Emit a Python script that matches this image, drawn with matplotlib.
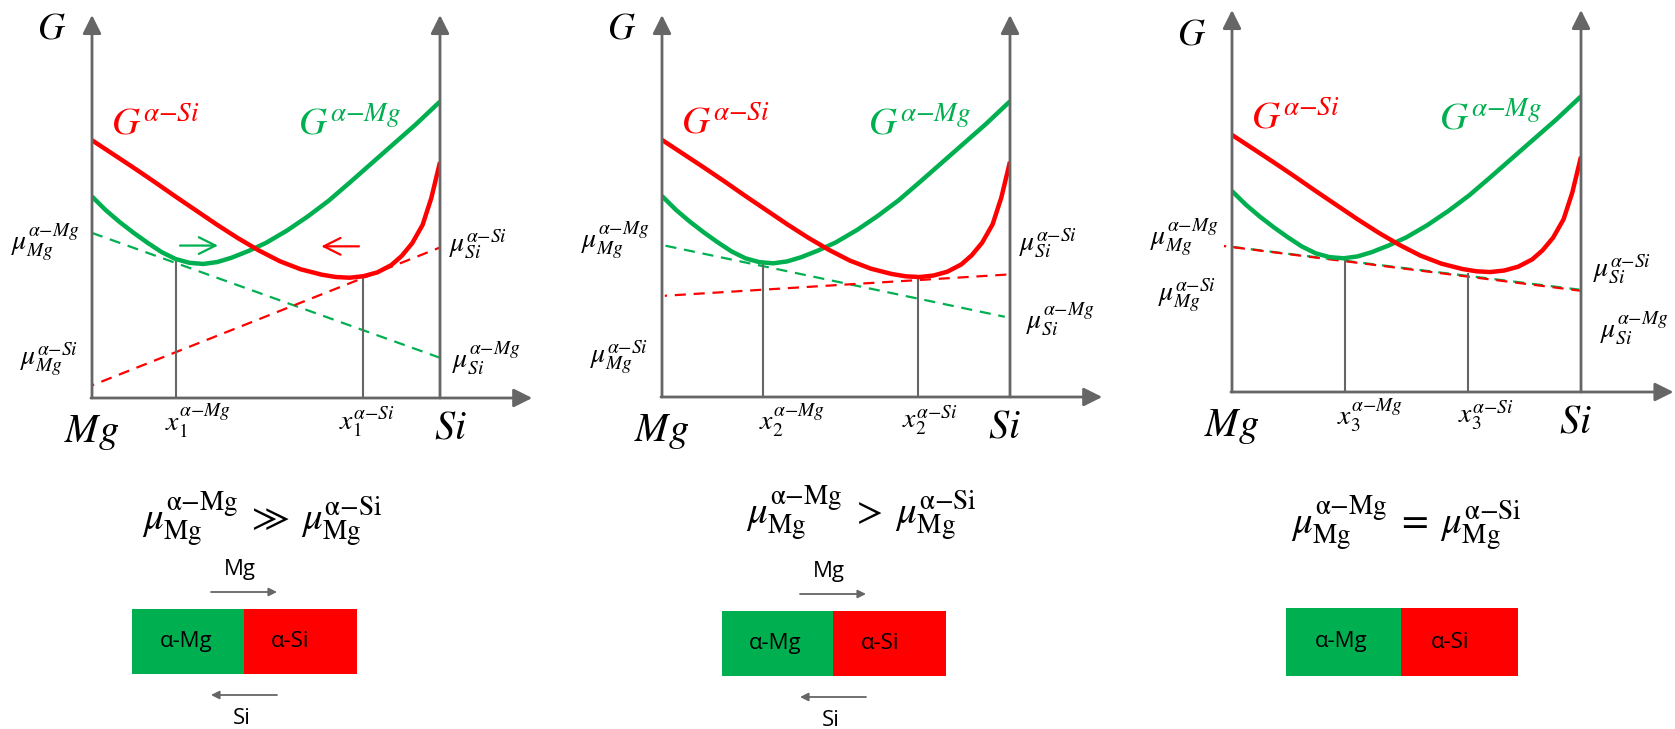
import matplotlib
matplotlib.use("Agg")
import matplotlib.pyplot as plt
from matplotlib.patches import Rectangle

plt.rcParams['mathtext.fontset'] = 'stix'
plt.rcParams['font.family'] = ['Open Sans', 'DejaVu Sans']

GREEN = '#00B050'
RED = '#FF0000'
GRAY = '#666666'

W, H = 1675, 729

# panel frames in pixels: left (Mg axis), right (Si axis), bottom, top
panel_left = [92, 662, 1232]
panel_right = [440, 1010, 1581]
panel_bottom = [398, 397, 392]
panel_top = [15, 15, 10]

# G curves (composition x, G value); same shape in all three panels
red_x = [0, 0.06, 0.12, 0.18, 0.24, 0.30, 0.36, 0.42, 0.48, 0.54, 0.60, 0.66, 0.70,
         0.74, 0.78, 0.82, 0.86, 0.89, 0.92, 0.95, 0.975, 1.0]
red_g = [0.673, 0.637, 0.601, 0.564, 0.526, 0.489, 0.452, 0.417, 0.385, 0.357, 0.336,
         0.322, 0.316, 0.314, 0.318, 0.328, 0.347, 0.371, 0.404, 0.452, 0.522, 0.616]
green_x = [0, 0.04, 0.08, 0.12, 0.16, 0.20, 0.24, 0.28, 0.32, 0.36, 0.40, 0.45, 0.50,
           0.56, 0.62, 0.68, 0.74, 0.80, 0.86, 0.93, 1.0]
green_g = [0.526, 0.490, 0.459, 0.431, 0.405, 0.381, 0.363, 0.353, 0.350, 0.355, 0.366,
           0.384, 0.405, 0.437, 0.474, 0.515, 0.562, 0.610, 0.658, 0.714, 0.774]

# common tangents (dashed): (x start, x end), (g start, g end)
green_tan_x = [(0, 1.0), (0.01, 0.985), (0, 0.995)]
green_tan_g = [(0.431, 0.105), (0.396, 0.21), (0.38, 0.268)]
red_tan_x = [(0, 1.0), (0.008, 1.0), (-0.023, 1.0)]
red_tan_g = [(0.033, 0.393), (0.265, 0.321), (0.382, 0.265)]

# tangent points
x_mg = [0.24, 0.291, 0.325]
g_mg = [0.358, 0.349, 0.343]
x_si = [0.78, 0.735, 0.675]
g_si = [0.318, 0.312, 0.31]
# left edge of the x labels relative to the drop lines
xlab_mg_off = [-0.031, -0.012, -0.024]
xlab_si_off = [-0.07, -0.044, -0.028]

# mu label positions (x left, g centre)
mu_mg_mg = [(-0.234, 0.406), (-0.232, 0.41), (-0.234, 0.406)]
mu_mg_si = [(-0.208, 0.103), (-0.206, 0.105), (-0.213, 0.253)]
mu_si_si = [(1.025, 0.399), (1.026, 0.402), (1.033, 0.319)]
mu_si_mg = [(1.035, 0.103), (1.046, 0.205), (1.054, 0.166)]

relations = [r'\gg', '>', '=']
formula_x = [262, 861, 1406]
formula_y = [520, 514, 524]

box_left = [132, 722, 1286]
box_mid = [244, 833, 1401]
box_right = [357, 946, 1518]
box_top = [609, 611, 608]
box_bottom = [674, 676, 676]

fig = plt.figure(figsize=(W / 100, H / 100), dpi=100)

for i in range(3):
    L, R, B, T = panel_left[i], panel_right[i], panel_bottom[i], panel_top[i]
    ax = fig.add_axes([L / W, 1 - B / H, (R - L) / W, (B - T) / H])
    ax.set_xlim(0, 1)
    ax.set_ylim(0, 1)
    ax.axis('off')

    # axes with arrow heads
    arrow = dict(arrowstyle='-|>', color=GRAY, lw=2, mutation_scale=28, shrinkA=0, shrinkB=0)
    ax.annotate('', xy=(0, 1), xytext=(0, 0), arrowprops=arrow, annotation_clip=False)
    ax.annotate('', xy=(1, 1), xytext=(1, 0), arrowprops=arrow, annotation_clip=False)
    ax.annotate('', xy=(1.265, 0), xytext=(-0.003, 0), arrowprops=arrow, annotation_clip=False)

    # tangent lines
    ax.plot(green_tan_x[i], green_tan_g[i], color=GREEN, lw=1.6, ls=(0, (5, 3.5)), clip_on=False)
    ax.plot(red_tan_x[i], red_tan_g[i], color=RED, lw=1.6, ls=(4, (5, 3.5)), clip_on=False)

    # vertical drop lines
    ax.plot([x_mg[i], x_mg[i]], [0, g_mg[i]], color=GRAY, lw=1.5)
    ax.plot([x_si[i], x_si[i]], [0, g_si[i]], color=GRAY, lw=1.5)

    # G curves
    ax.plot(green_x, green_g, color=GREEN, lw=3.2, solid_joinstyle='round', solid_capstyle='butt')
    ax.plot(red_x, red_g, color=RED, lw=3.2, solid_joinstyle='round', solid_capstyle='butt')

    # text labels
    ax.text(-0.115, 0.965 if i < 2 else 0.935, r'$G$', fontsize=27, ha='center', va='center')
    ax.text(0.0, -0.088, r'$Mg$', fontsize=29, ha='center', va='center')
    ax.text(1.03 if i == 0 else 0.985, -0.08, r'$Si$', fontsize=29, ha='center', va='center')
    ax.text(0.055, 0.715, r'$G^{\alpha{-}Si}$', fontsize=28, color=RED, ha='left', va='center')
    ax.text(0.592, 0.712, r'$G^{\alpha{-}Mg}$', fontsize=28, color=GREEN, ha='left', va='center')

    n = i + 1
    ax.text(x_mg[i] + xlab_mg_off[i], -0.062, r'$x_{%d}^{\alpha{-}Mg}$' % n, fontsize=20,
            ha='left', va='center')
    ax.text(x_si[i] + xlab_si_off[i], -0.062, r'$x_{%d}^{\alpha{-}Si}$' % n, fontsize=20,
            ha='left', va='center')

    ax.text(*mu_mg_mg[i], r'$\mu_{Mg}^{\alpha{-}Mg}$', fontsize=20, ha='left', va='center')
    ax.text(*mu_mg_si[i], r'$\mu_{Mg}^{\alpha{-}Si}$', fontsize=20, ha='left', va='center')
    ax.text(*mu_si_si[i], r'$\mu_{Si}^{\alpha{-}Si}$', fontsize=20, ha='left', va='center')
    ax.text(*mu_si_mg[i], r'$\mu_{Si}^{\alpha{-}Mg}$', fontsize=20, ha='left', va='center')

    if i == 0:
        # driving force arrows
        ax.annotate('', xy=(0.362, 0.398), xytext=(0.253, 0.398),
                    arrowprops=dict(arrowstyle='->', color=GREEN, lw=1.6, mutation_scale=30,
                                    shrinkA=0, shrinkB=0))
        ax.annotate('', xy=(0.659, 0.396), xytext=(0.767, 0.396),
                    arrowprops=dict(arrowstyle='->', color=RED, lw=1.6, mutation_scale=30,
                                    shrinkA=0, shrinkB=0))

# lower part: relations and diffusion couples, in pixel coordinates
bg = fig.add_axes([0, 0, 1, 1])
bg.set_xlim(0, W)
bg.set_ylim(H, 0)
bg.axis('off')
bg.set_zorder(-1)

for i in range(3):
    rel = relations[i]
    bg.text(formula_x[i], formula_y[i],
            r'$\mu_{\mathrm{Mg}}^{\mathrm{\alpha{-}Mg}}\;%s\;\mu_{\mathrm{Mg}}^{\mathrm{\alpha{-}Si}}$' % rel,
            fontsize=28, ha='center', va='center')

    top, bot = box_top[i], box_bottom[i]
    bg.add_patch(Rectangle((box_left[i], top), box_mid[i] - box_left[i], bot - top,
                           facecolor=GREEN, edgecolor='none'))
    bg.add_patch(Rectangle((box_mid[i], top), box_right[i] - box_mid[i], bot - top,
                           facecolor=RED, edgecolor='none'))
    ymid = (top + bot) / 2
    bg.text((box_left[i] + box_mid[i]) / 2 - 2, ymid, 'α-Mg', fontsize=16, ha='center', va='center')
    bg.text((box_mid[i] + box_right[i]) / 2 - 10, ymid, 'α-Si', fontsize=16, ha='center', va='center')

    if i < 2:
        cx = box_mid[i]
        bg.annotate('', xy=(cx + 33, top - 17), xytext=(cx - 33, top - 17),
                    arrowprops=dict(arrowstyle='-|>', color=GRAY, lw=1.3, mutation_scale=12,
                                    shrinkA=0, shrinkB=0))
        bg.text(cx - 4, top - 39, 'Mg', fontsize=16, ha='center', va='center')
        bg.annotate('', xy=(cx - 33, bot + 21), xytext=(cx + 33, bot + 21),
                    arrowprops=dict(arrowstyle='-|>', color=GRAY, lw=1.3, mutation_scale=12,
                                    shrinkA=0, shrinkB=0))
        bg.text(cx - 2, bot + 45, 'Si', fontsize=16, ha='center', va='center')

fig.savefig('out.png', dpi=100)
